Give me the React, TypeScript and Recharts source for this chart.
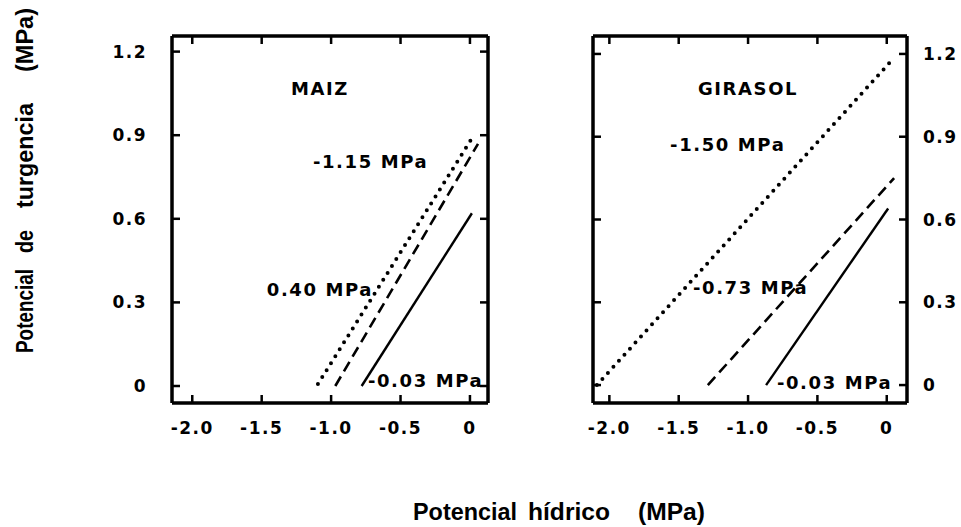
import React from 'react';
import { LineChart, Line, XAxis, YAxis, ReferenceDot } from 'recharts';

const xTicks = [-2.0, -1.5, -1.0, -0.5, 0];
const xTickLabels = ['-2.0', '-1.5', '-1.0', '-0.5', '0'];
const yTicks = [0, 0.3, 0.6, 0.9, 1.2];
const yTickLabels = ['0', '0.3', '0.6', '0.9', '1.2'];

// MAIZ
const maizDotted = [{ x: -1.095, y: 0.007 }, { x: 0.007, y: 0.883 }];
const maizDashed = [{ x: -0.97, y: 0.0 }, { x: 0.058, y: 0.869 }];
const maizSolid = [{ x: -0.78, y: 0.0 }, { x: 0.014, y: 0.62 }];
const maizLabels = [
  { x: -1.08, y: 1.066, text: 'MAIZ', anchor: 'middle' },
  { x: -1.131, y: 0.804, text: '-1.15 MPa', anchor: 'start' },
  { x: -1.463, y: 0.345, text: '0.40 MPa', anchor: 'start' },
  { x: -0.735, y: 0.018, text: '-0.03 MPa', anchor: 'start' },
];

// GIRASOL
const giraDotted = [{ x: -2.09, y: 0.0 }, { x: 0.053, y: 1.186 }];
const giraDashed = [{ x: -1.29, y: 0.0 }, { x: 0.053, y: 0.75 }];
const giraSolid = [{ x: -0.87, y: 0.0 }, { x: 0.01, y: 0.64 }];
const giraLabels = [
  { x: -1.0, y: 1.073, text: 'GIRASOL', anchor: 'middle' },
  { x: -1.562, y: 0.87, text: '-1.50 MPa', anchor: 'start' },
  { x: -1.397, y: 0.352, text: '-0.73 MPa', anchor: 'start' },
  { x: -0.792, y: 0.011, text: '-0.03 MPa', anchor: 'start' },
];

// axis title words: [text, start, length]
const xTitleWords: [string, number, number][] = [
  ['Potencial', 413, 104],
  ['hídrico', 528, 82],
  ['(MPa)', 638, 67],
];
const yTitleWords: [string, number, number][] = [
  ['Potencial', 353, 84],
  ['de', 253, 23],
  ['turgencia', 208, 105],
  ['(MPa)', 72, 64],
];

const FONT = '"DejaVu Sans", sans-serif';
const TITLE_FONT = '"Liberation Sans", Arial, sans-serif';
const tickText = { fontFamily: FONT, fontSize: 17, fontWeight: 700, fill: '#000', letterSpacing: 1.5 };

const fmtX = (v: number) => xTickLabels[xTicks.indexOf(v)] ?? String(v);
const fmtY = (v: number) => yTickLabels[yTicks.indexOf(v)] ?? String(v);

const TL = 8;

function makeTick(orient: 'bottom' | 'top' | 'left' | 'right', showLabel: boolean, fmt: (v: number) => string) {
  return (p: any) => {
    const x = Number(p.x);
    const y = Number(p.y);
    const v = p.payload ? p.payload.value : 0;
    if (orient === 'bottom') {
      return (
        <g>
          <line x1={x} y1={y} x2={x} y2={y - TL} stroke="#000" strokeWidth={2.5} />
          {showLabel && (
            <text x={x} y={y + 31} textAnchor="middle" style={tickText}>{fmt(v)}</text>
          )}
        </g>
      );
    }
    if (orient === 'top') {
      return <line x1={x} y1={y} x2={x} y2={y + TL} stroke="#000" strokeWidth={2.5} />;
    }
    if (orient === 'left') {
      return (
        <g>
          <line x1={x} y1={y} x2={x + TL} y2={y} stroke="#000" strokeWidth={2.5} />
          {showLabel && (
            <text x={x - 25} y={y + 6} textAnchor="end" style={tickText}>{fmt(v)}</text>
          )}
        </g>
      );
    }
    return (
      <g>
        <line x1={x} y1={y} x2={x - TL} y2={y} stroke="#000" strokeWidth={2.5} />
        {showLabel && (
          <text x={x + 16} y={y + 6} textAnchor="start" style={tickText}>{fmt(v)}</text>
        )}
      </g>
    );
  };
}

const mkLabel = (text: string, anchor: string) => ({
  content: (props: any) => {
    const vb = props.viewBox || {};
    const x = (vb.x ?? 0) + (vb.width ?? 0) / 2;
    const y = (vb.y ?? 0) + (vb.height ?? 0) / 2;
    return (
      <text
        x={x}
        y={y + 6.5}
        textAnchor={anchor as any}
        style={{ fontFamily: FONT, fontSize: 18, fontWeight: 700, fill: '#000', letterSpacing: 1.6 }}
      >
        {text}
      </text>
    );
  },
});

const FRAME = { stroke: '#000', strokeWidth: 3.5 };

function Panel(props: {
  dotted: { x: number; y: number }[];
  dashed: { x: number; y: number }[];
  solid: { x: number; y: number }[];
  labels: { x: number; y: number; text: string; anchor: string }[];
  xDomain: [number, number];
  yDomain: [number, number];
  yLabelsLeft: boolean;
  width: number;
  margin: { top: number; right: number; left: number; bottom: number };
}) {
  const { dotted, dashed, solid, labels, xDomain, yDomain, yLabelsLeft, width, margin } = props;
  return (
    <LineChart width={width} height={440} margin={margin}>
      <XAxis
        xAxisId="b"
        type="number"
        dataKey="x"
        orientation="bottom"
        domain={xDomain}
        ticks={xTicks}
        allowDataOverflow
        height={40}
        axisLine={FRAME}
        tickLine={false}
        tickSize={0}
        tickMargin={0}
        tick={makeTick('bottom', true, fmtX)}
        interval={0}
      />
      <XAxis
        xAxisId="t"
        type="number"
        dataKey="x"
        orientation="top"
        domain={xDomain}
        ticks={xTicks}
        allowDataOverflow
        height={1}
        axisLine={FRAME}
        tickLine={false}
        tickSize={0}
        tickMargin={0}
        tick={makeTick('top', false, fmtX)}
        interval={0}
      />
      <YAxis
        yAxisId="l"
        type="number"
        orientation="left"
        domain={yDomain}
        ticks={yTicks}
        allowDataOverflow
        width={yLabelsLeft ? 60 : 1}
        axisLine={FRAME}
        tickLine={false}
        tickSize={0}
        tickMargin={0}
        tick={makeTick('left', yLabelsLeft, fmtY)}
        interval={0}
      />
      <YAxis
        yAxisId="r"
        type="number"
        orientation="right"
        domain={yDomain}
        ticks={yTicks}
        allowDataOverflow
        width={yLabelsLeft ? 1 : 52}
        axisLine={FRAME}
        tickLine={false}
        tickSize={0}
        tickMargin={0}
        tick={makeTick('right', !yLabelsLeft, fmtY)}
        interval={0}
      />
      <Line
        data={dotted}
        xAxisId="b"
        yAxisId="l"
        dataKey="y"
        stroke="#000"
        strokeWidth={4}
        strokeDasharray="0 8.2"
        strokeLinecap="round"
        dot={false}
        activeDot={false}
        isAnimationActive={false}
      />
      <Line
        data={dashed}
        xAxisId="b"
        yAxisId="l"
        dataKey="y"
        stroke="#000"
        strokeWidth={2.6}
        strokeDasharray="11 6"
        dot={false}
        activeDot={false}
        isAnimationActive={false}
      />
      <Line
        data={solid}
        xAxisId="b"
        yAxisId="l"
        dataKey="y"
        stroke="#000"
        strokeWidth={2.4}
        dot={false}
        activeDot={false}
        isAnimationActive={false}
      />
      {labels.map((l, i) => (
        <ReferenceDot
          key={i}
          xAxisId="b"
          yAxisId="l"
          x={l.x}
          y={l.y}
          r={0}
          fill="none"
          stroke="none"
          label={mkLabel(l.text, l.anchor)}
        />
      ))}
    </LineChart>
  );
}

export default function App() {
  const titleStyle = { fontFamily: TITLE_FONT, fontSize: 24, fontWeight: 700, fill: '#000' };
  return (
    <div
      style={{
        position: 'fixed',
        left: 0,
        top: 0,
        width: 961,
        height: 527,
        background: '#fff',
        overflow: 'hidden',
      }}
    >
      <div style={{ position: 'absolute', left: 58, top: 8 }}>
        <Panel
          dotted={maizDotted}
          dashed={maizDashed}
          solid={maizSolid}
          labels={maizLabels}
          xDomain={[-2.146, 0.13]}
          yDomain={[-0.061, 1.256]}
          yLabelsLeft={true}
          width={440}
          margin={{ top: 27, right: 9, left: 54, bottom: 5 }}
        />
      </div>
      <div style={{ position: 'absolute', left: 583, top: 8 }}>
        <Panel
          dotted={giraDotted}
          dashed={giraDashed}
          solid={giraSolid}
          labels={giraLabels}
          xDomain={[-2.118, 0.146]}
          yDomain={[-0.065, 1.265]}
          yLabelsLeft={false}
          width={376}
          margin={{ top: 27, right: 0, left: 9, bottom: 5 }}
        />
      </div>
      <svg
        width={961}
        height={527}
        style={{ position: 'absolute', left: 0, top: 0, pointerEvents: 'none' }}
      >
        {xTitleWords.map(([w, start, len]) => (
          <text
            key={w}
            x={start}
            y={520}
            textLength={len}
            lengthAdjust="spacingAndGlyphs"
            style={titleStyle}
          >
            {w}
          </text>
        ))}
        {yTitleWords.map(([w, start, len]) => (
          <text
            key={w}
            transform={`translate(33,${start}) rotate(-90)`}
            x={0}
            y={0}
            textLength={len}
            lengthAdjust="spacingAndGlyphs"
            style={titleStyle}
          >
            {w}
          </text>
        ))}
      </svg>
    </div>
  );
}
